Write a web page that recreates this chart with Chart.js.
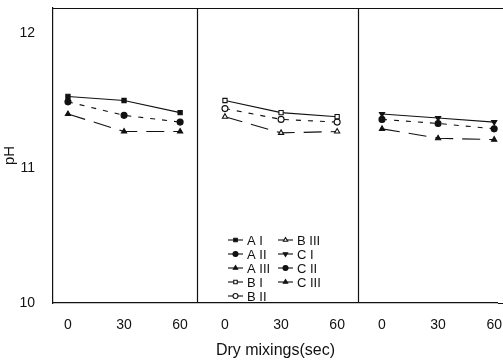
<!DOCTYPE html>
<html>
<head>
<meta charset="utf-8">
<script src="https://cdn.jsdelivr.net/npm/chart.js@4"></script>
<style>
  html, body { margin: 0; padding: 0; background: #fff; }
  #wrap { width: 503px; height: 363px; }
</style>
</head>
<body>
<div id="wrap"><canvas id="phChart"></canvas></div>
<script>
// mixing times shown under each panel
const mixSeconds = [0, 30, 60];
const groups = ['A', 'B', 'C'];

// pH
const phA1 = [11.53, 11.50, 11.41];
const phA2 = [11.49, 11.39, 11.34];
const phA3 = [11.40, 11.27, 11.27];
const phB1 = [11.50, 11.41, 11.38];
const phB2 = [11.44, 11.36, 11.34];
const phB3 = [11.38, 11.26, 11.27];
const phC1 = [11.40, 11.37, 11.34];
const phC2 = [11.36, 11.33, 11.29];
const phC3 = [11.29, 11.22, 11.21];

const yTicks = [10, 11, 12];

const panelGap = 84;      // x shift between panels (axis units)
const dividerAt = [69, 155];

const ink = '#111';

function panelData(values, panel) {
    return values.map((v, i) => ({ x: mixSeconds[i] + panel * panelGap, y: v }));
}

const styles = [
    { label: 'A I',   data: phA1, panel: 0, point: 'rect',     fill: true,  dash: [] },
    { label: 'A II',  data: phA2, panel: 0, point: 'circle',   fill: true,  dash: [5, 7] },
    { label: 'A III', data: phA3, panel: 0, point: 'triangle', fill: true,  dash: [18, 9] },
    { label: 'B I',   data: phB1, panel: 1, point: 'rect',     fill: false, dash: [] },
    { label: 'B II',  data: phB2, panel: 1, point: 'circle',   fill: false, dash: [5, 7] },
    { label: 'B III', data: phB3, panel: 1, point: 'triangle', fill: false, dash: [18, 9] },
    { label: 'C I',   data: phC1, panel: 2, point: 'triangle', fill: true,  dash: [], rot: 180 },
    { label: 'C II',  data: phC2, panel: 2, point: 'circle',   fill: true,  dash: [5, 7] },
    { label: 'C III', data: phC3, panel: 2, point: 'triangle', fill: true,  dash: [18, 9] }
];

const datasets = styles.map(s => ({
    label: s.label,
    data: panelData(s.data, s.panel),
    borderColor: ink,
    borderWidth: 1.1,
    borderDash: s.dash,
    pointStyle: s.point,
    pointRotation: s.rot || 0,
    pointRadius: 3,
    pointBorderWidth: 1.1,
    pointBorderColor: ink,
    pointBackgroundColor: s.fill ? ink : '#fff',
    fill: false,
    tension: 0
}));

const xTickValues = [];
groups.forEach((g, p) => mixSeconds.forEach(s => xTickValues.push(s + p * panelGap)));

// frame lines: top border and panel dividers
const framePlugin = {
    id: 'frame',
    afterDraw(chart) {
        const { ctx, chartArea } = chart;
        const x = chart.scales.x;
        ctx.save();
        ctx.strokeStyle = ink;
        ctx.lineWidth = 1.2;
        ctx.beginPath();
        ctx.moveTo(chartArea.left, chartArea.top + 0.5);
        ctx.lineTo(chart.width, chartArea.top + 0.5);
        dividerAt.forEach(d => {
            const px = Math.round(x.getPixelForValue(d)) + 0.5;
            ctx.moveTo(px, chartArea.top);
            ctx.lineTo(px, chartArea.bottom);
        });
        ctx.moveTo(chartArea.right, chartArea.bottom + 0.5);
        ctx.lineTo(chart.width, chartArea.bottom + 0.5);
        ctx.stroke();
        ctx.restore();
    }
};

// legend in two columns inside the middle panel
const legendPlugin = {
    id: 'twoColLegend',
    afterDraw(chart) {
        const { ctx, chartArea } = chart;
        const perCol = 5;
        const x0 = chartArea.left + 175;
        const y0 = chartArea.top + 232;
        const colW = 50;
        const rowH = 14;
        ctx.save();
        ctx.font = '13px "Liberation Sans", Arial, sans-serif';
        ctx.textBaseline = 'middle';
        ctx.fillStyle = ink;
        chart.data.datasets.forEach((ds, i) => {
            const col = Math.floor(i / perCol);
            const row = i % perCol;
            const lx = x0 + col * colW;
            const ly = y0 + row * rowH;
            ctx.strokeStyle = ink;
            ctx.lineWidth = 1.1;
            ctx.setLineDash([]);
            ctx.beginPath();
            ctx.moveTo(lx, ly);
            ctx.lineTo(lx + 15, ly);
            ctx.stroke();
            ctx.fillStyle = ds.pointBackgroundColor;
            Chart.helpers.drawPoint(ctx, {
                pointStyle: ds.pointStyle,
                rotation: ds.pointRotation,
                radius: 2.5,
                borderWidth: 1.1
            }, lx + 7.5, ly);
            ctx.fillStyle = ink;
            ctx.fillText(ds.label, lx + 19, ly + 1);
        });
        ctx.restore();
    }
};

new Chart(document.getElementById('phChart'), {
    type: 'line',
    data: { datasets: datasets },
    options: {
        responsive: true,
        maintainAspectRatio: false,
        animation: false,
        layout: { padding: { top: 8, right: 0, bottom: 0, left: 0 } },
        plugins: {
            legend: { display: false },
            tooltip: { enabled: false }
        },
        scales: {
            x: {
                type: 'linear',
                min: -8,
                max: 230,
                grid: { display: false },
                border: { display: true, color: ink, width: 1.2 },
                afterBuildTicks: scale => {
                    scale.ticks = xTickValues.map(v => ({ value: v }));
                },
                afterFit: scale => {
                    scale.height = 60;
                    scale.paddingLeft = 0;
                    scale.paddingRight = 0;
                },
                ticks: {
                    color: ink,
                    padding: 6,
                    maxRotation: 0,
                    autoSkip: false,
                    font: { family: '"Liberation Sans", Arial, sans-serif', size: 14 },
                    callback: v => String(v % panelGap)
                },
                title: {
                    display: true,
                    text: 'Dry mixings(sec)',
                    color: ink,
                    font: { family: '"Liberation Sans", Arial, sans-serif', size: 16 },
                    padding: { top: 0, bottom: 3 }
                }
            },
            y: {
                min: 10,
                max: 12.185,
                grid: { display: false },
                border: { display: true, color: ink, width: 1.2 },
                afterBuildTicks: scale => {
                    scale.ticks = yTicks.map(v => ({ value: v }));
                },
                afterFit: scale => {
                    scale.width = 53;
                    scale.paddingTop = 0;
                    scale.paddingBottom = 0;
                },
                ticks: {
                    color: ink,
                    padding: 10,
                    font: { family: '"Liberation Sans", Arial, sans-serif', size: 14 }
                },
                title: {
                    display: true,
                    text: 'pH',
                    color: ink,
                    font: { family: '"Liberation Sans", Arial, sans-serif', size: 15 },
                    padding: { top: 1, bottom: 0 }
                }
            }
        }
    },
    plugins: [framePlugin, legendPlugin]
});
</script>
</body>
</html>
